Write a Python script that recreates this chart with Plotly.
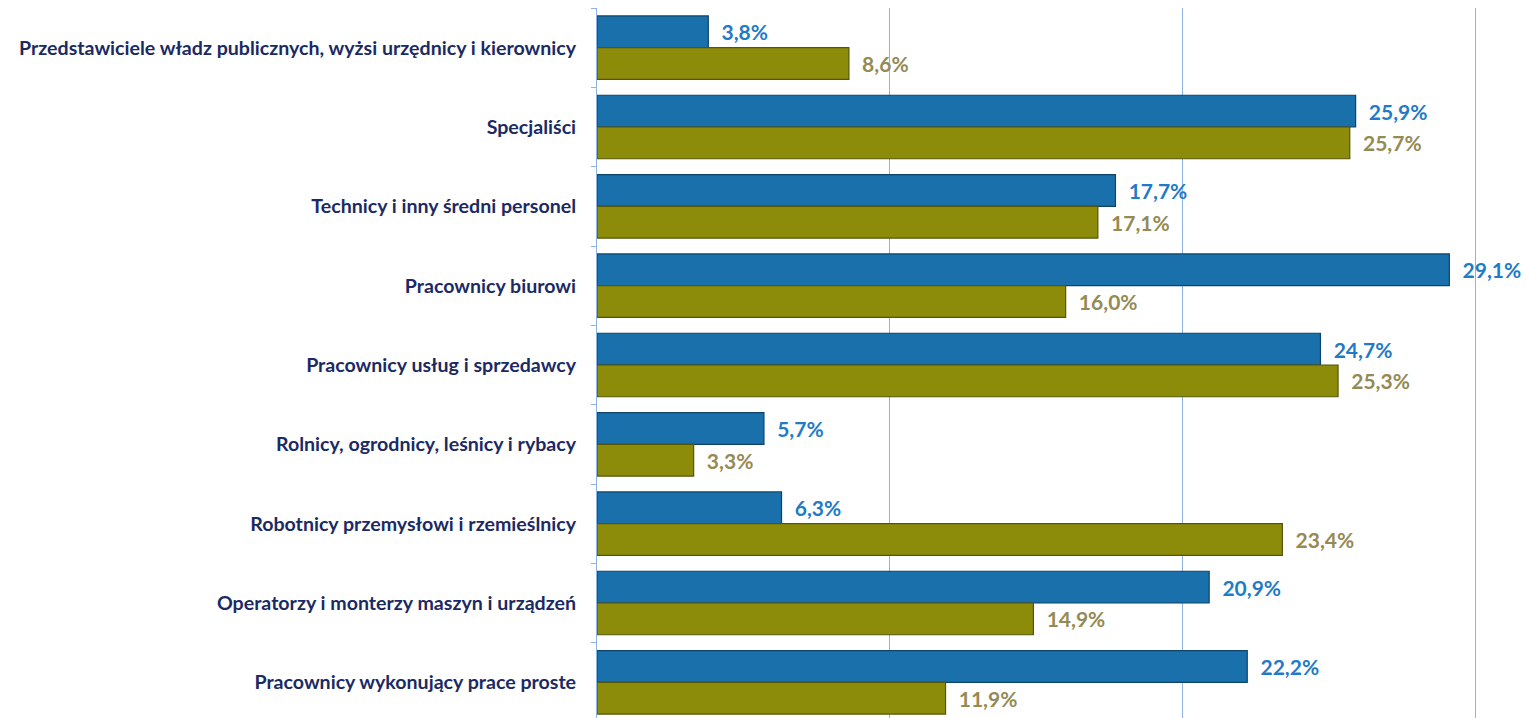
import plotly.graph_objects as go

categories = [
    "Przedstawiciele władz publicznych, wyżsi urzędnicy i kierownicy",
    "Specjaliści",
    "Technicy i inny średni personel",
    "Pracownicy biurowi",
    "Pracownicy usług i sprzedawcy",
    "Rolnicy, ogrodnicy, leśnicy i rybacy",
    "Robotnicy przemysłowi i rzemieślnicy",
    "Operatorzy i monterzy maszyn i urządzeń",
    "Pracownicy wykonujący prace proste",
]
series_blue = [3.8, 25.9, 17.7, 29.1, 24.7, 5.7, 6.3, 20.9, 22.2]
series_olive = [8.6, 25.7, 17.1, 16.0, 25.3, 3.3, 23.4, 14.9, 11.9]

font_family = "Lato, 'Open Sans', sans-serif"

fig = go.Figure()
fig.add_trace(go.Bar(
    y=categories, x=series_blue, orientation="h", name="Seria 1",
    marker=dict(color="#1A70AA", line=dict(color="#0E4469", width=1.2)),
    texttemplate="  %{x:.1f}%", textposition="outside",
    textfont=dict(color="#1F7BC6", size=21, family=font_family, weight="bold"),
    cliponaxis=False, constraintext="none",
))
fig.add_trace(go.Bar(
    y=categories, x=series_olive, orientation="h", name="Seria 2",
    marker=dict(color="#8C8C0A", line=dict(color="#55550A", width=1.2)),
    texttemplate="  %{x:.1f}%", textposition="outside",
    textfont=dict(color="#948A54", size=21, family=font_family, weight="bold"),
    cliponaxis=False, constraintext="none",
))

fig.update_layout(
    width=1521, height=718,
    margin=dict(l=589, r=24, t=0, b=4, autoexpand=False),
    paper_bgcolor="white", plot_bgcolor="white",
    barmode="group", bargap=0.2, bargroupgap=0.0,
    showlegend=False,
    separators=", ",
    font=dict(family=font_family),
    xaxis=dict(
        range=[0, 31], dtick=10, showgrid=True, gridcolor="#8EB4E3", gridwidth=1,
        showticklabels=False, zeroline=False, showline=False, ticks="",
        automargin=False,
    ),
    yaxis=dict(
        autorange="reversed", showline=True, linecolor="#8EB4E3", linewidth=1,
        ticks="outside", ticklen=5, tickcolor="#8EB4E3", tickson="boundaries",
        tickfont=dict(color="#1B2A63", size=19.6, family=font_family, weight="bold"),
        ticklabelstandoff=16, showgrid=False, automargin=False,
    ),
)

fig.write_html("out.html")
